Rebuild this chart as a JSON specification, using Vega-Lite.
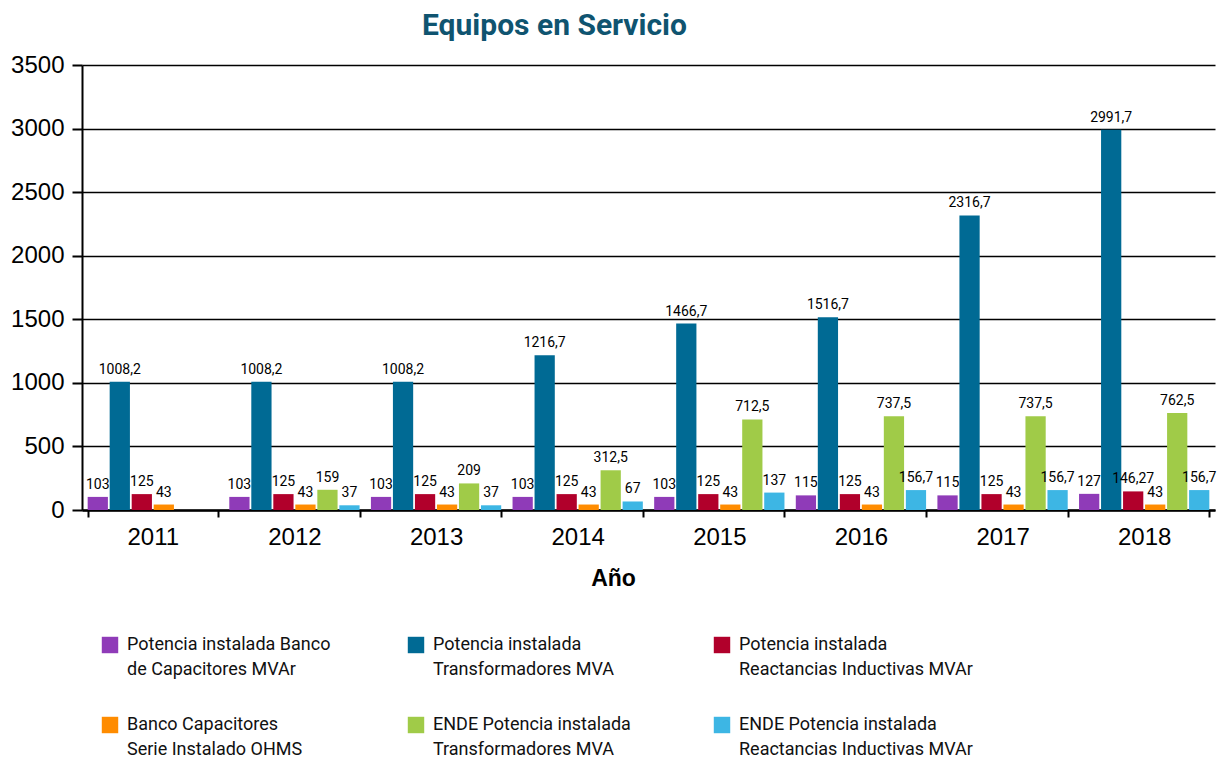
{
  "$schema": "https://vega.github.io/schema/vega-lite/v6.json",
  "width": 1133,
  "height": 445,
  "autosize": {"type": "none"},
  "padding": {"left": 82, "top": 65, "right": 5, "bottom": 251},
  "title": {
    "text": "Equipos en Servicio",
    "font": "Roboto",
    "fontSize": 30,
    "fontWeight": "bold",
    "color": "#0f5470",
    "anchor": "middle",
    "dx": -94,
    "offset": 12
  },
  "config": {
    "view": {"stroke": null},
    "font": "Liberation Sans",
    "locale": {"number": {"decimal": ",", "thousands": "", "grouping": [3], "currency": ["", ""]}},
    "style": {"guide-label": {"lineHeight": 25}}
  },
  "data": {
    "values": [
      {"year": "2011", "serie": "Potencia instalada Banco de Capacitores MVAr", "valor": 103},
      {"year": "2011", "serie": "Potencia instalada Transformadores MVA", "valor": 1008.2},
      {"year": "2011", "serie": "Potencia instalada Reactancias Inductivas MVAr", "valor": 125},
      {"year": "2011", "serie": "Banco Capacitores Serie Instalado OHMS", "valor": 43},
      {"year": "2012", "serie": "Potencia instalada Banco de Capacitores MVAr", "valor": 103},
      {"year": "2012", "serie": "Potencia instalada Transformadores MVA", "valor": 1008.2},
      {"year": "2012", "serie": "Potencia instalada Reactancias Inductivas MVAr", "valor": 125},
      {"year": "2012", "serie": "Banco Capacitores Serie Instalado OHMS", "valor": 43},
      {"year": "2012", "serie": "ENDE Potencia instalada Transformadores MVA", "valor": 159},
      {"year": "2012", "serie": "ENDE Potencia instalada Reactancias Inductivas MVAr", "valor": 37},
      {"year": "2013", "serie": "Potencia instalada Banco de Capacitores MVAr", "valor": 103},
      {"year": "2013", "serie": "Potencia instalada Transformadores MVA", "valor": 1008.2},
      {"year": "2013", "serie": "Potencia instalada Reactancias Inductivas MVAr", "valor": 125},
      {"year": "2013", "serie": "Banco Capacitores Serie Instalado OHMS", "valor": 43},
      {"year": "2013", "serie": "ENDE Potencia instalada Transformadores MVA", "valor": 209},
      {"year": "2013", "serie": "ENDE Potencia instalada Reactancias Inductivas MVAr", "valor": 37},
      {"year": "2014", "serie": "Potencia instalada Banco de Capacitores MVAr", "valor": 103},
      {"year": "2014", "serie": "Potencia instalada Transformadores MVA", "valor": 1216.7},
      {"year": "2014", "serie": "Potencia instalada Reactancias Inductivas MVAr", "valor": 125},
      {"year": "2014", "serie": "Banco Capacitores Serie Instalado OHMS", "valor": 43},
      {"year": "2014", "serie": "ENDE Potencia instalada Transformadores MVA", "valor": 312.5},
      {"year": "2014", "serie": "ENDE Potencia instalada Reactancias Inductivas MVAr", "valor": 67},
      {"year": "2015", "serie": "Potencia instalada Banco de Capacitores MVAr", "valor": 103},
      {"year": "2015", "serie": "Potencia instalada Transformadores MVA", "valor": 1466.7},
      {"year": "2015", "serie": "Potencia instalada Reactancias Inductivas MVAr", "valor": 125},
      {"year": "2015", "serie": "Banco Capacitores Serie Instalado OHMS", "valor": 43},
      {"year": "2015", "serie": "ENDE Potencia instalada Transformadores MVA", "valor": 712.5},
      {"year": "2015", "serie": "ENDE Potencia instalada Reactancias Inductivas MVAr", "valor": 137},
      {"year": "2016", "serie": "Potencia instalada Banco de Capacitores MVAr", "valor": 115},
      {"year": "2016", "serie": "Potencia instalada Transformadores MVA", "valor": 1516.7},
      {"year": "2016", "serie": "Potencia instalada Reactancias Inductivas MVAr", "valor": 125},
      {"year": "2016", "serie": "Banco Capacitores Serie Instalado OHMS", "valor": 43},
      {"year": "2016", "serie": "ENDE Potencia instalada Transformadores MVA", "valor": 737.5},
      {"year": "2016", "serie": "ENDE Potencia instalada Reactancias Inductivas MVAr", "valor": 156.7},
      {"year": "2017", "serie": "Potencia instalada Banco de Capacitores MVAr", "valor": 115},
      {"year": "2017", "serie": "Potencia instalada Transformadores MVA", "valor": 2316.7},
      {"year": "2017", "serie": "Potencia instalada Reactancias Inductivas MVAr", "valor": 125},
      {"year": "2017", "serie": "Banco Capacitores Serie Instalado OHMS", "valor": 43},
      {"year": "2017", "serie": "ENDE Potencia instalada Transformadores MVA", "valor": 737.5},
      {"year": "2017", "serie": "ENDE Potencia instalada Reactancias Inductivas MVAr", "valor": 156.7},
      {"year": "2018", "serie": "Potencia instalada Banco de Capacitores MVAr", "valor": 127},
      {"year": "2018", "serie": "Potencia instalada Transformadores MVA", "valor": 2991.7},
      {"year": "2018", "serie": "Potencia instalada Reactancias Inductivas MVAr", "valor": 146.27},
      {"year": "2018", "serie": "Banco Capacitores Serie Instalado OHMS", "valor": 43},
      {"year": "2018", "serie": "ENDE Potencia instalada Transformadores MVA", "valor": 762.5},
      {"year": "2018", "serie": "ENDE Potencia instalada Reactancias Inductivas MVAr", "valor": 156.7}
    ]
  },
  "encoding": {
    "x": {
      "field": "year",
      "type": "nominal",
      "scale": {"paddingInner": 0.08, "paddingOuter": 0.04},
      "axis": {
        "title": "Año",
        "titleFont": "Liberation Sans",
        "titleFontSize": 23,
        "titleFontWeight": "bold",
        "titleColor": "#000000",
        "titlePadding": 18,
        "titleX": 531,
        "labelAngle": 0,
        "labelFontSize": 24,
        "labelColor": "#000000",
        "labelPadding": 8,
        "tickBand": "extent",
        "tickSize": 7,
        "tickWidth": 2,
        "tickColor": "#000000",
        "domainColor": "#000000",
        "domainWidth": 2.5,
        "grid": false
      }
    },
    "xOffset": {
      "field": "serie",
      "type": "nominal",
      "scale": {
        "domain": [
          "Potencia instalada Banco de Capacitores MVAr",
          "Potencia instalada Transformadores MVA",
          "Potencia instalada Reactancias Inductivas MVAr",
          "Banco Capacitores Serie Instalado OHMS",
          "ENDE Potencia instalada Transformadores MVA",
          "ENDE Potencia instalada Reactancias Inductivas MVAr"
        ],
        "paddingInner": 0.08
      }
    },
    "y": {
      "field": "valor",
      "type": "quantitative",
      "scale": {"domain": [0, 3500]},
      "axis": {
        "title": null,
        "values": [0, 500, 1000, 1500, 2000, 2500, 3000, 3500],
        "format": "d",
        "labelFontSize": 24,
        "labelColor": "#000000",
        "labelPadding": 8,
        "tickSize": 10,
        "tickWidth": 2,
        "tickColor": "#000000",
        "domainColor": "#000000",
        "domainWidth": 2,
        "grid": true,
        "gridColor": "#000000",
        "gridWidth": 1.5,
        "gridOpacity": 1
      }
    }
  },
  "layer": [
    {
      "mark": {"type": "bar"},
      "encoding": {
        "color": {
          "field": "serie",
          "type": "nominal",
          "scale": {
            "domain": [
              "Potencia instalada Banco de Capacitores MVAr",
              "Potencia instalada Transformadores MVA",
              "Potencia instalada Reactancias Inductivas MVAr",
              "Banco Capacitores Serie Instalado OHMS",
              "ENDE Potencia instalada Transformadores MVA",
              "ENDE Potencia instalada Reactancias Inductivas MVAr"
            ],
            "range": ["#8f3bb8", "#006a94", "#b1002b", "#ff8c00", "#a0cb48", "#3db6e4"]
          },
          "legend": {
            "title": null,
            "orient": "none",
            "legendX": 19,
            "legendY": 571,
            "direction": "horizontal",
            "columns": 3,
            "gridAlign": "all",
            "columnPadding": 46,
            "rowPadding": 37,
            "symbolType": "square",
            "symbolSize": 270,
            "symbolStrokeWidth": 0,
            "symbolOpacity": 1,
            "labelFont": "Roboto",
            "labelFontSize": 18,
            "labelColor": "#111111",
            "labelLimit": 400,
            "labelOffset": 8,
            "labelBaseline": "middle",
            "labelExpr": "{'Potencia instalada Banco de Capacitores MVAr': ['Potencia instalada Banco', 'de Capacitores MVAr'], 'Potencia instalada Transformadores MVA': ['Potencia instalada', 'Transformadores MVA'], 'Potencia instalada Reactancias Inductivas MVAr': ['Potencia instalada', 'Reactancias Inductivas MVAr'], 'Banco Capacitores Serie Instalado OHMS': ['Banco Capacitores', 'Serie Instalado OHMS'], 'ENDE Potencia instalada Transformadores MVA': ['ENDE Potencia instalada', 'Transformadores MVA'], 'ENDE Potencia instalada Reactancias Inductivas MVAr': ['ENDE Potencia instalada', 'Reactancias Inductivas MVAr']}[datum.label]"
          }
        }
      }
    },
    {
      "mark": {
        "type": "text",
        "baseline": "bottom",
        "dy": -5,
        "font": "Roboto",
        "fontSize": 14,
        "color": "#000000"
      },
      "encoding": {
        "text": {"field": "valor", "type": "quantitative"}
      }
    }
  ]
}
